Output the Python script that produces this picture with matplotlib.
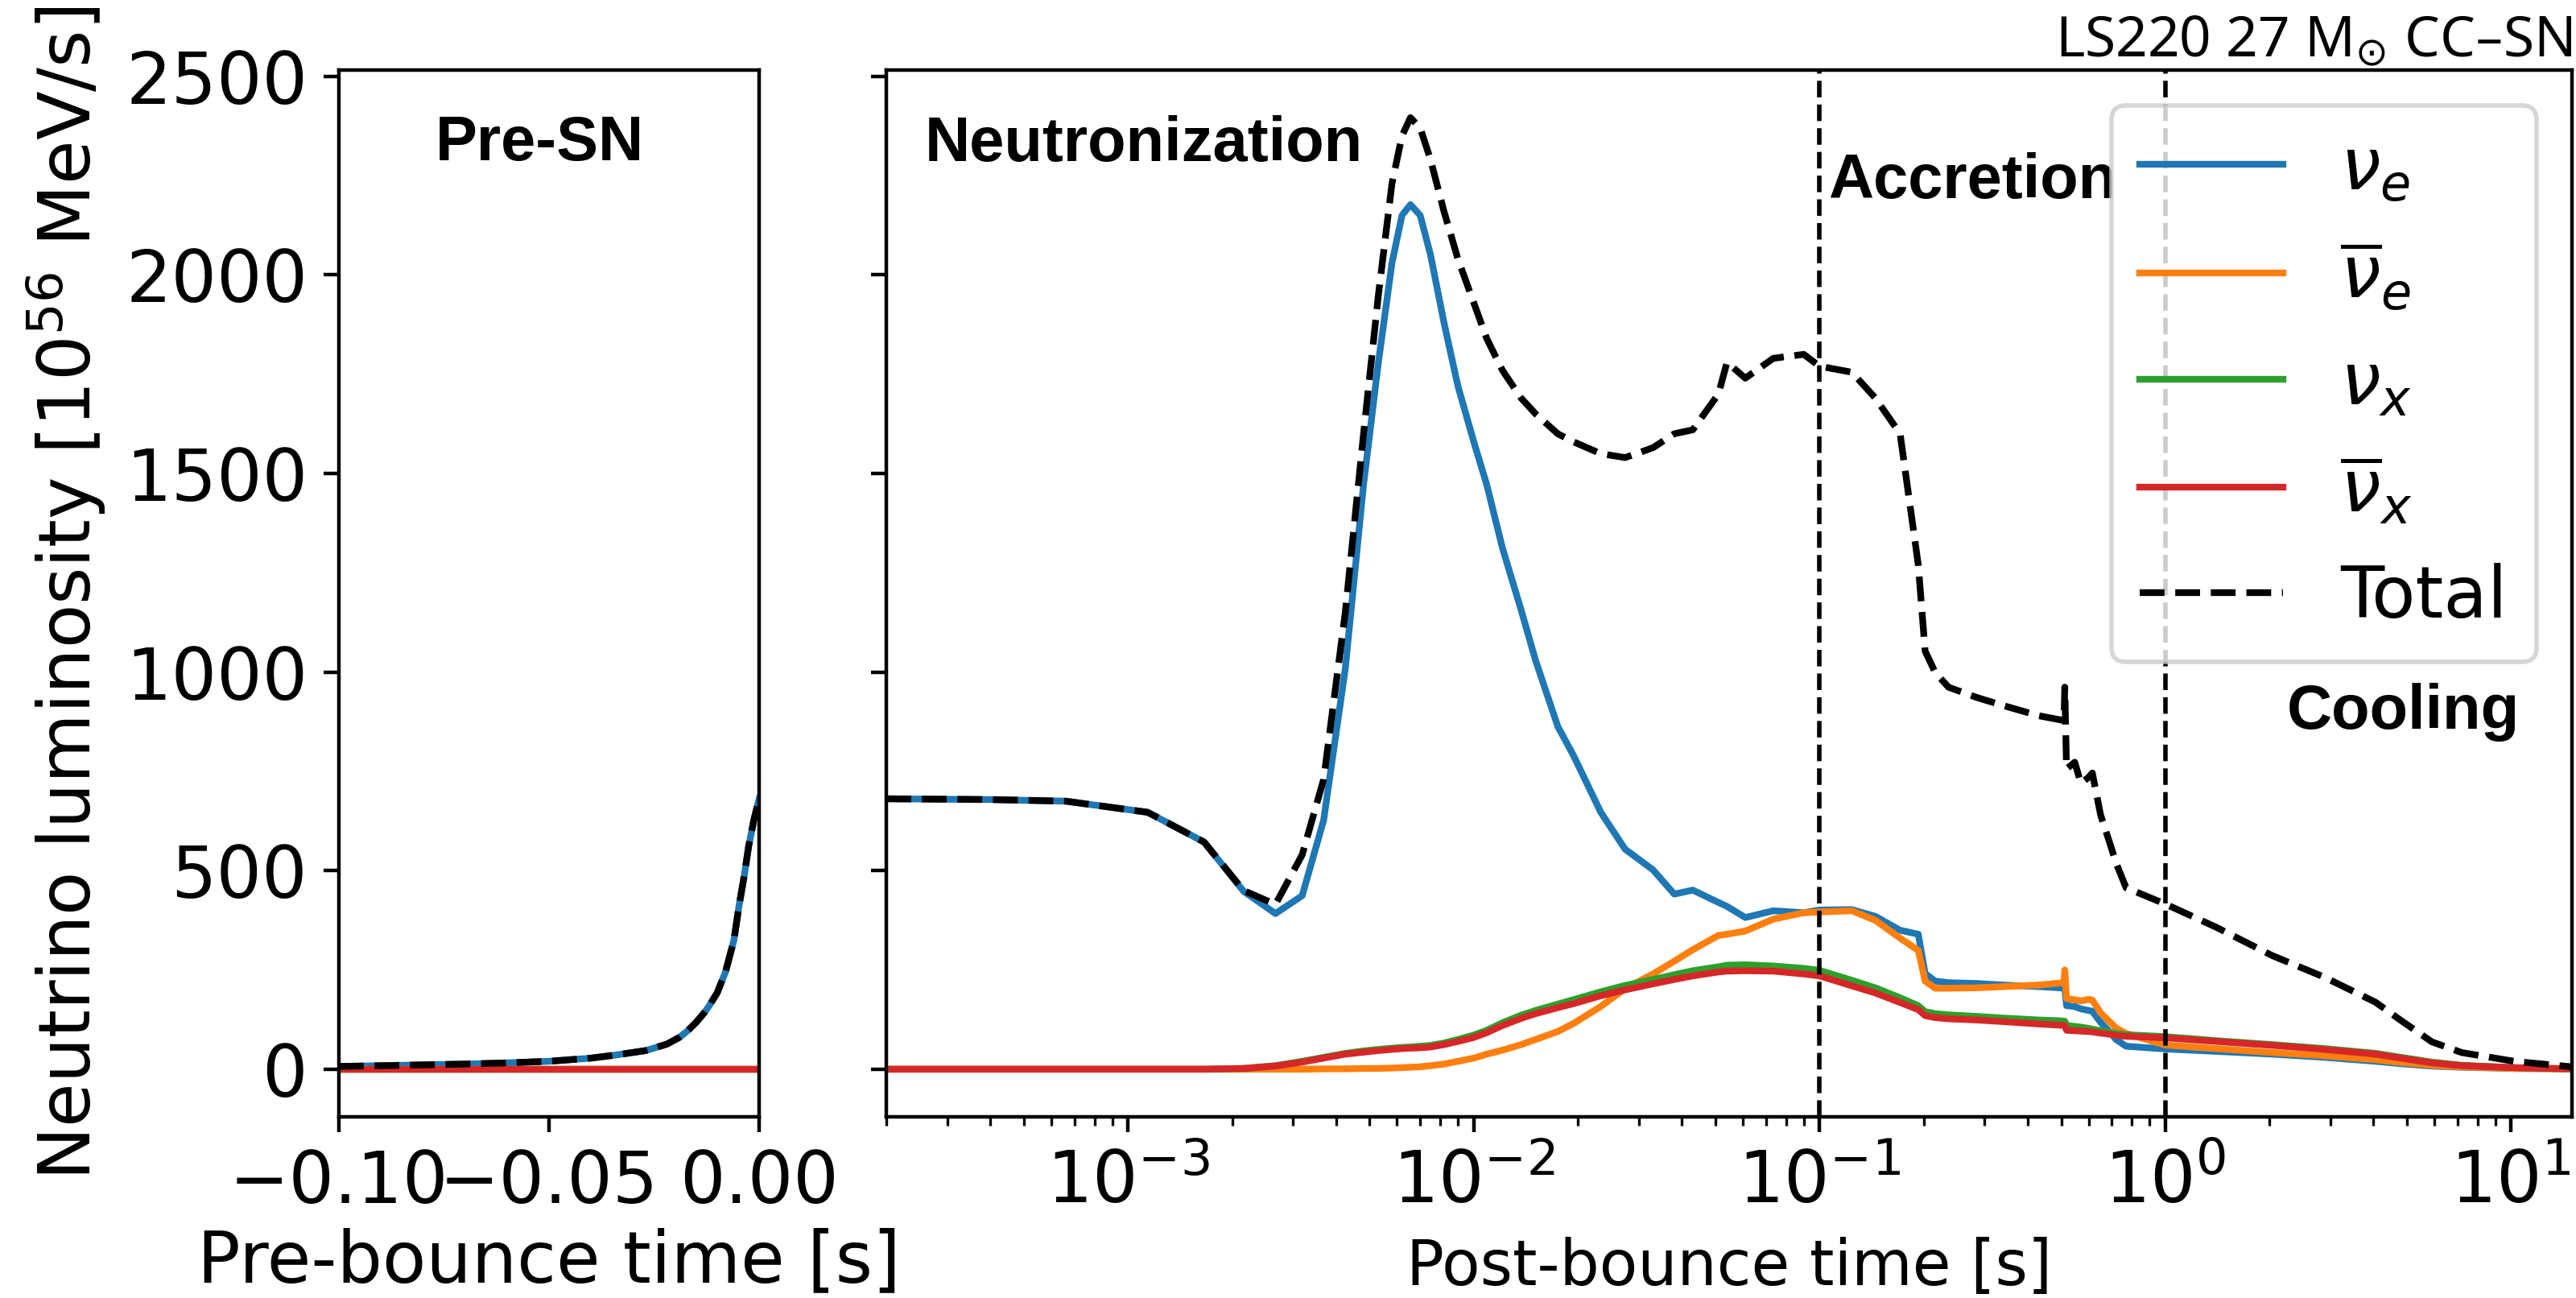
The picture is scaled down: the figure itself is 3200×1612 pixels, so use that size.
import matplotlib
matplotlib.use('Agg')
import matplotlib.pyplot as plt

plt.rcParams['font.family'] = ['DejaVu Sans']
plt.rcParams['mathtext.fontset'] = 'dejavusans'

# ---------------- data: pre-bounce (s, 1e56 MeV/s) ----------------
t_pre = [-0.100, -0.090, -0.080, -0.070, -0.060, -0.050, -0.040, -0.034, -0.027,
         -0.022, -0.019, -0.017, -0.015, -0.013, -0.012, -0.010, -0.008, -0.006,
         -0.0048, -0.0035, -0.0025, -0.0012, 0.0]
ve_pre = [7, 9, 11, 13, 16, 20, 28, 36, 47, 63, 80, 97, 118, 143, 158, 192, 245, 325,
          410, 490, 561, 630, 681]
vebar_pre = [0] * 23
vx_pre = [0] * 23
vxbar_pre = [0] * 23
total_pre = [7, 9, 11, 13, 16, 20, 28, 36, 47, 63, 80, 97, 118, 143, 158, 192, 245, 325,
             410, 490, 561, 630, 681]
pre_ticks = [-0.10, -0.05, 0.00]

# ---------------- data: post-bounce ----------------
t_post = [2.0e-4, 4.0e-4, 6.6e-4, 1.14e-3, 1.66e-3, 2.16e-3, 2.67e-3, 3.19e-3, 3.68e-3, 4.25e-3,
          4.8e-3, 5.3e-3, 5.8e-3, 6.2e-3, 6.56e-3, 7.0e-3, 7.5e-3, 8.2e-3, 9.0e-3, 1.0e-2,
          1.09e-2, 1.21e-2, 1.37e-2, 1.51e-2, 1.75e-2, 1.94e-2, 2.33e-2, 2.74e-2, 3.3e-2, 3.8e-2,
          4.3e-2, 5.1e-2, 5.4e-2, 6.1e-2, 7.35e-2, 9.0e-2, 0.100, 0.124, 0.145, 0.171,
          0.193, 0.202, 0.216, 0.236, 0.285, 0.339, 0.431, 0.495, 0.509, 0.512,
          0.518, 0.547, 0.570, 0.600, 0.615, 0.650, 0.693, 0.720, 0.770, 1.00,
          1.40, 2.04, 2.88, 4.05, 4.80, 5.90, 7.20, 10.2, 15.0]
ve_post = [681, 679, 675, 647, 572, 448, 392, 437, 627, 1008,
           1472, 1780, 2030, 2150, 2177, 2150, 2050, 1880, 1720, 1580,
           1472, 1313, 1157, 1029, 863, 791, 647, 554, 502, 441,
           451, 420, 410, 382, 399, 394, 401, 402, 385, 350,
           340, 241, 222, 218, 216, 212, 208, 205, 204, 204,
           160, 158, 152, 148, 146, 118, 92, 75, 58, 51,
           45, 38, 30, 20, 14, 8, 5, 2, 1]
vebar_post = [0, 0, 0, 0, 0, 0, 0, 0, 1, 1,
              2, 2, 3, 4, 5, 6, 9, 13, 20, 28,
              38, 48, 62, 75, 95, 115, 158, 203, 240, 272,
              301, 337, 340, 348, 378, 394, 396, 399, 375, 330,
              299, 222, 204, 204, 205, 208, 212, 217, 218, 250,
              178, 175, 172, 176, 174, 142, 118, 104, 90, 61,
              52, 42, 34, 24, 17, 10, 6, 2, 1]
vx_post = [0, 0, 0, 0, 0, 2, 9, 20, 30, 40,
           46, 50, 53, 55, 56, 58, 60, 66, 75, 86,
           98, 117, 136, 148, 164, 175, 195, 211, 226, 238,
           248, 258, 262, 263, 260, 254, 249, 224, 205, 180,
           160, 145, 140, 137, 133, 129, 124, 122, 121, 121,
           110, 108, 106, 103, 101, 97, 93, 90, 87, 82,
           72, 62, 52, 40, 30, 18, 10, 4, 1]
vxbar_post = [0, 0, 0, 0, 0, 2, 8, 18, 28, 38,
              43, 47, 50, 52, 53, 54, 56, 62, 70, 80,
              92, 110, 128, 140, 155, 165, 185, 200, 215, 226,
              235, 245, 247, 248, 247, 240, 235, 210, 192, 168,
              150, 135, 130, 127, 124, 120, 114, 111, 110, 110,
              98, 97, 96, 95, 94, 91, 88, 85, 83, 79,
              70, 60, 50, 38, 28, 16, 9, 4, 1]
total_post = [681, 679, 675, 647, 572, 450, 415, 540, 730, 1150,
              1600, 1950, 2230, 2350, 2396, 2370, 2290, 2160, 2040, 1930,
              1840, 1760, 1690, 1650, 1600, 1580, 1550, 1540, 1565, 1600,
              1610, 1700, 1780, 1740, 1790, 1800, 1770, 1755, 1690, 1600,
              1270, 1053, 999, 962, 936, 916, 890, 880, 878, 962,
              756, 773, 720, 735, 746, 640, 566, 520, 457, 416,
              358, 286, 232, 169, 123, 69, 42, 20, 6]

labels = [r'$\nu_e$', r'$\overline{\nu}_e$', r'$\nu_x$', r'$\overline{\nu}_x$', 'Total']
colors = ['tab:blue', 'tab:orange', 'tab:green', 'tab:red']
phase_lines = [0.1, 1.0]

# ---------------- figure ----------------
fig = plt.figure(figsize=(8, 4.03), dpi=400)
ax1 = fig.add_axes([0.13156, 0.13958, 0.16313, 0.80645])
ax2 = fig.add_axes([0.34406, 0.13958, 0.65438, 0.80645], sharey=ax1)

pre_series = [ve_pre, vebar_pre, vx_pre, vxbar_pre]
post_series = [ve_post, vebar_post, vx_post, vxbar_post]

for s, c in zip(pre_series, colors):
    ax1.plot(t_pre, s, color=c, lw=1.5)
ax1.plot(t_pre, total_pre, color='k', ls='--', lw=1.5)
ax1.set_xlim(-0.1, 0.0)
ax1.set_xticks(pre_ticks)
ax1.set_xlabel('Pre-bounce time [s]', fontsize=16, labelpad=2)
ax1.set_ylabel(r'Neutrino luminosity [$10^{56}$ MeV/s]', fontsize=16)
ax1.tick_params(labelsize=16)
ax1.text(0.477, 0.914, 'Pre-SN', transform=ax1.transAxes, ha='center', va='baseline',
         fontsize=14, fontweight='bold', family='Liberation Sans')

for s, c, lab in zip(post_series, colors, labels[:4]):
    ax2.plot(t_post, s, color=c, lw=1.5, label=lab)
ax2.plot(t_post, total_post, color='k', ls='--', lw=1.5, label=labels[4])
for xv in phase_lines:
    ax2.axvline(xv, color='k', ls='--', lw=1.0)
ax2.set_xscale('log')
ax2.set_xlim(t_post[0], t_post[-1])
ax2.tick_params(labelsize=16, labelleft=False)
ax2.set_xlabel('Post-bounce time [s]', fontsize=14)
ax2.legend(loc='upper right', fontsize=16)
ax2.set_title('LS220 27 M$_{\\odot}$ CC–SN', loc='right', fontsize=12.5,
              family=['Noto Sans', 'DejaVu Sans'], pad=3)

txt_kw = dict(transform=ax2.transAxes, va='baseline', fontsize=14,
              fontweight='bold', family='Liberation Sans')
ax2.text(0.0229, 0.913, 'Neutronization', **txt_kw)
ax2.text(0.5587, 0.878, 'Accretion', **txt_kw)
ax2.text(0.831, 0.371, 'Cooling', **txt_kw)

fig.savefig('out.png', dpi=400)
